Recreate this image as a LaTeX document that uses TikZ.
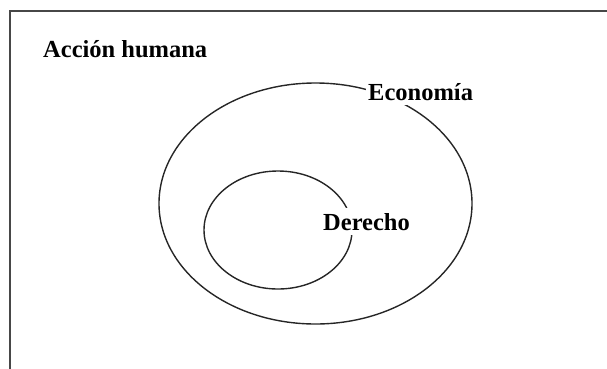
\documentclass[tikz,border=0pt]{standalone}
\usepackage{fontspec}
\setmainfont{Liberation Serif}
\usepackage{tikz}

\tikzset{
  setline/.style={line width=1.4pt,black!85},
  setlabel/.style={fill=white,inner xsep=2pt,inner ysep=5pt,font=\bfseries\fontsize{24.5}{29}\selectfont}
}

\begin{document}
\begin{tikzpicture}[x=1pt,y=-1pt]
  \useasboundingbox (0,0) rectangle (607,368);
  \clip (0,0) rectangle (607,368);
  % universo
  \draw[line width=1.9pt,black!72] (10,11) rectangle (640,400);
  % conjuntos
  \draw[setline] (315.5,203.5) ellipse (156.5 and 120.5);
  \draw[setline] (278,230) ellipse (74 and 59);
  % etiquetas
  \node[anchor=base west,font=\bfseries\fontsize{24.5}{29}\selectfont,inner sep=0pt] (accion) at (43,57) {Acción humana};
  \node[setlabel,anchor=base west] (economia) at (366,100) {Economía};
  \node[setlabel,anchor=base west] (derecho) at (321,230) {Derecho};
\end{tikzpicture}
\end{document}
